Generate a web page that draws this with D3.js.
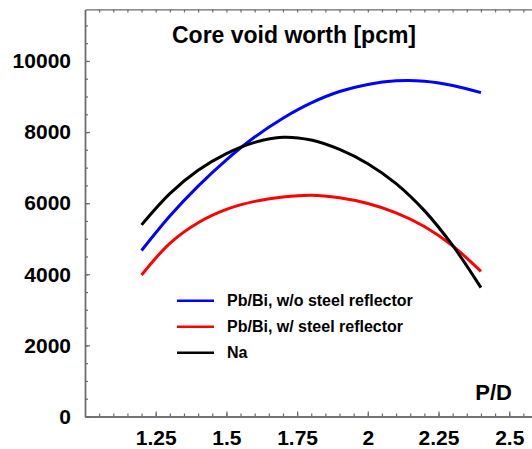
<!DOCTYPE html>
<html>
<head>
<meta charset="utf-8">
<script src="https://cdn.jsdelivr.net/npm/d3@7"></script>
<style>
  html, body { margin: 0; padding: 0; background: #fff; }
  svg { display: block; font-family: "Liberation Sans", Arial, Helvetica, sans-serif; font-weight: bold; }
</style>
</head>
<body>
<svg id="chart" width="532" height="449"></svg>
<script>
// Pitch-to-diameter ratios at which the void worth is sampled
const pd = [1.2, 1.3, 1.4, 1.5, 1.6, 1.7, 1.8, 1.9, 2.0, 2.1, 2.2, 2.3, 2.4];

// Core void worth [pcm] for each coolant / reflector option
const pbbiNoRefl = [4670, 5640, 6480, 7220, 7860, 8390, 8820, 9140, 9340, 9440, 9430, 9310, 9110];
const pbbiRefl   = [3980, 4870, 5450, 5825, 6050, 6175, 6225, 6150, 5990, 5730, 5345, 4800, 4080];
const sodium     = [5390, 6270, 6925, 7395, 7710, 7855, 7775, 7510, 7110, 6550, 5790, 4810, 3625];

const seriesNames  = ["Pb/Bi, w/o steel reflector", "Pb/Bi, w/ steel reflector", "Na"];
const seriesColors = ["#0000ff", "#ff0000", "#000000"];

const xTickLabels = [1.25, 1.5, 1.75, 2, 2.25, 2.5];
const yTickLabels = [0, 2000, 4000, 6000, 8000, 10000];

const titleText = "Core void worth [pcm]";
const xAxisLabel = "P/D";

const svg = d3.select("#chart");

const x = d3.scaleLinear().domain([1, 2.6]).range([85, 537.5]);
const y = d3.scaleLinear().domain([0, 11450]).range([416.5, 9.4]);

const axisColor = "#6a6a6a";

// minor tick positions
const xMinor = d3.range(1.05, 2.6, 0.05).map(v => +v.toFixed(2));
const yMinor = d3.range(500, 11450, 500);

function styleAxis(g) {
  g.selectAll("path.domain").attr("stroke", axisColor).attr("stroke-width", 1.4);
  g.selectAll(".tick line").attr("stroke", axisColor).attr("stroke-width", 1.2);
  g.selectAll(".tick text").attr("fill", "#000");
}

function styleLabels(g) {
  g.selectAll(".tick text")
    .attr("font-size", 21)
    .attr("font-weight", "bold")
    .attr("font-family", "Liberation Sans, Arial, sans-serif");
}

// bottom axis: minor ticks
svg.append("g").attr("transform", `translate(0,${y(0)})`)
  .call(d3.axisBottom(x).tickValues(xMinor).tickSize(-3).tickSizeOuter(0).tickFormat(""))
  .call(styleAxis);
// bottom axis: labelled ticks
svg.append("g").attr("transform", `translate(0,${y(0)})`)
  .call(d3.axisBottom(x).tickValues(xTickLabels).tickSize(-5).tickSizeOuter(0).tickPadding(14)
    .tickFormat(d3.format("")))
  .call(styleAxis)
  .call(styleLabels);

// top axis
svg.append("g").attr("transform", `translate(0,${y.range()[1]})`)
  .call(d3.axisTop(x).tickValues(xMinor).tickSize(-3).tickSizeOuter(0).tickFormat(""))
  .call(styleAxis);

// left axis: minor ticks
svg.append("g").attr("transform", `translate(${x(1)},0)`)
  .call(d3.axisLeft(y).tickValues(yMinor).tickSize(-3).tickSizeOuter(0).tickFormat(""))
  .call(styleAxis);
// left axis: labelled ticks
svg.append("g").attr("transform", `translate(${x(1)},0)`)
  .call(d3.axisLeft(y).tickValues(yTickLabels).tickSize(-5).tickSizeOuter(0).tickPadding(14)
    .tickFormat(d3.format("")))
  .call(styleAxis)
  .call(styleLabels);

// curves
const line = d3.line()
  .x(d => x(d[0]))
  .y(d => y(d[1]))
  .curve(d3.curveCatmullRom.alpha(0.5));

[pbbiNoRefl, pbbiRefl, sodium].forEach((vals, i) => {
  svg.append("path")
    .datum(pd.map((p, j) => [p, vals[j]]))
    .attr("fill", "none")
    .attr("stroke", seriesColors[i])
    .attr("stroke-width", 3)
    .attr("d", line);
});

// title
svg.append("text")
  .attr("x", 294).attr("y", 43)
  .attr("text-anchor", "middle")
  .attr("font-size", 23)
  .text(titleText);

// x axis label
svg.append("text")
  .attr("x", 512).attr("y", 400)
  .attr("text-anchor", "end")
  .attr("font-size", 22)
  .text(xAxisLabel);

// legend
const legend = svg.append("g");
const legendY = [300.7, 326.7, 352.7];
seriesNames.forEach((name, i) => {
  legend.append("line")
    .attr("x1", 177).attr("x2", 214)
    .attr("y1", legendY[i]).attr("y2", legendY[i])
    .attr("stroke", seriesColors[i]).attr("stroke-width", 2.6);
  legend.append("text")
    .attr("x", 227).attr("y", legendY[i]).attr("dy", "0.36em")
    .attr("font-size", 16)
    .text(name);
});
</script>
</body>
</html>
